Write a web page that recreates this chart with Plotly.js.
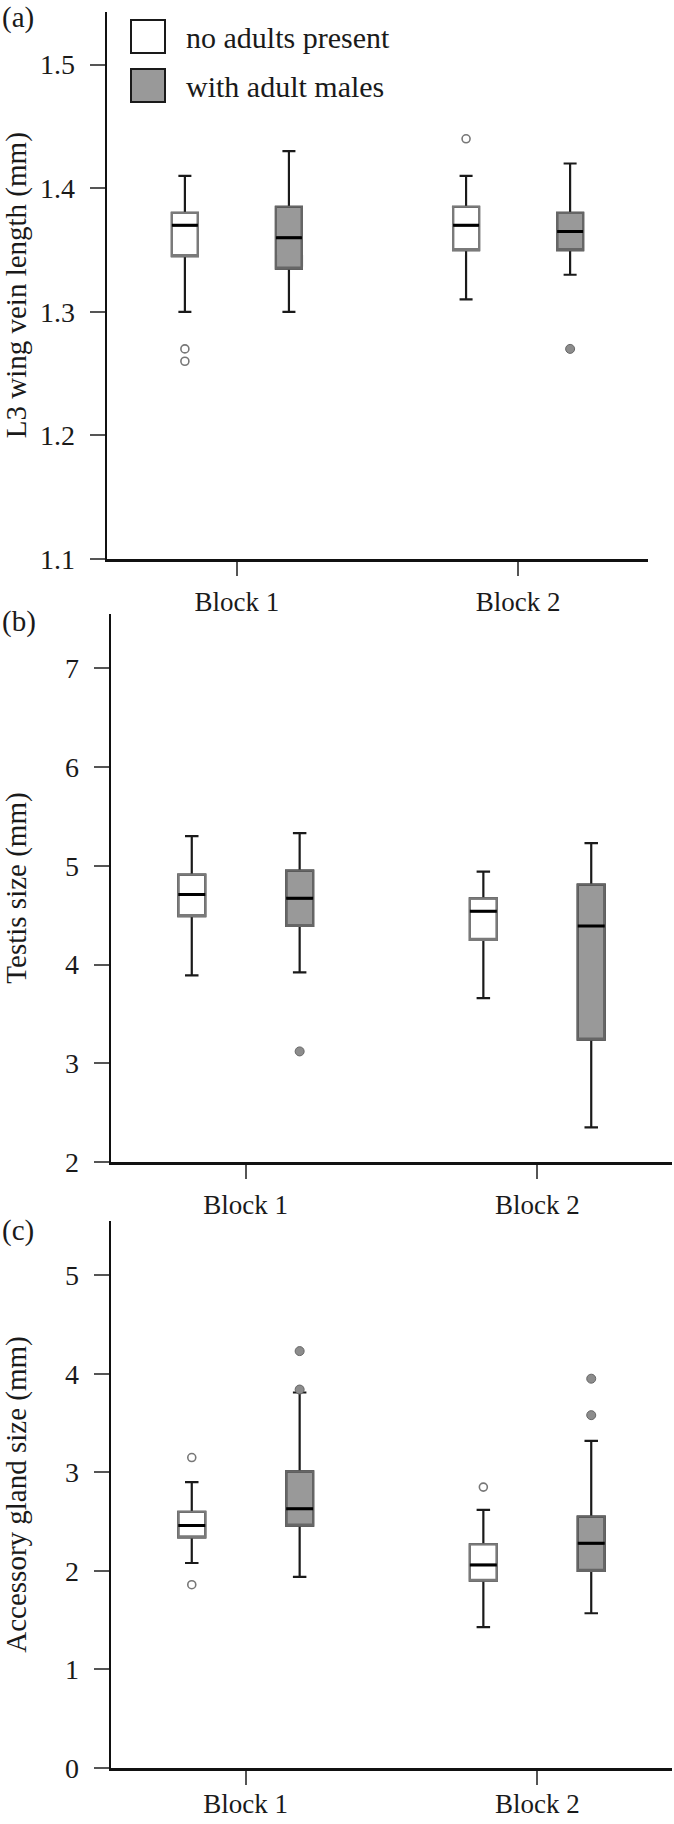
<!DOCTYPE html>
<html>
<head>
<meta charset="utf-8">
<script src="https://cdn.plot.ly/plotly-3.0.1.min.js"></script>
<style>html,body{margin:0;padding:0;background:#fff;}#chart{width:674px;height:1824px;}</style>
</head>
<body>
<div id="chart"></div>
<script>
// ---------- data ----------
var groups = ['no adults present', 'with adult males'];
var blocks = ['Block 1', 'Block 2'];
var panelLabels = ['(a)', '(b)', '(c)'];
var yTitles = ['L3 wing vein length (mm)', 'Testis size (mm)', 'Accessory gland size (mm)'];

// (a) L3 wing vein length
var wingNoneQ1 = [1.345, 1.35];
var wingNoneMed = [1.37, 1.37];
var wingNoneQ3 = [1.38, 1.385];
var wingNoneLo = [1.30, 1.31];
var wingNoneHi = [1.41, 1.41];
var wingNoneOut = [[1.27, 1.26], [1.44]];
var wingMaleQ1 = [1.335, 1.35];
var wingMaleMed = [1.36, 1.365];
var wingMaleQ3 = [1.385, 1.38];
var wingMaleLo = [1.30, 1.33];
var wingMaleHi = [1.43, 1.42];
var wingMaleOut = [[], [1.27]];

// (b) Testis size
var testNoneQ1 = [4.49, 4.25];
var testNoneMed = [4.71, 4.54];
var testNoneQ3 = [4.91, 4.67];
var testNoneLo = [3.89, 3.66];
var testNoneHi = [5.30, 4.94];
var testNoneOut = [[], []];
var testMaleQ1 = [4.39, 3.24];
var testMaleMed = [4.67, 4.39];
var testMaleQ3 = [4.95, 4.81];
var testMaleLo = [3.92, 2.35];
var testMaleHi = [5.33, 5.23];
var testMaleOut = [[3.12], []];

// (c) Accessory gland size
var glandNoneQ1 = [2.34, 1.90];
var glandNoneMed = [2.46, 2.06];
var glandNoneQ3 = [2.60, 2.27];
var glandNoneLo = [2.08, 1.43];
var glandNoneHi = [2.90, 2.62];
var glandNoneOut = [[3.15, 1.86], [2.85]];
var glandMaleQ1 = [2.46, 2.00];
var glandMaleMed = [2.63, 2.28];
var glandMaleQ3 = [3.01, 2.55];
var glandMaleLo = [1.94, 1.57];
var glandMaleHi = [3.81, 3.32];
var glandMaleOut = [[4.23, 3.84], [3.95, 3.58]];

// ---------- styling ----------
var FONT = '"Liberation Serif", serif';
var TXT = '#1a1a1a';
var styles = [
  {fill: '#ffffff', edge: '#7a7a7a', mk: {color: '#ffffff', size: 8, line: {color: '#777', width: 1.6}}},
  {fill: '#999999', edge: '#666666', mk: {color: '#8c8c8c', size: 9, line: {color: '#666', width: 1}}}
];

var panels = [
  {xa: 'x', ya: 'y', sets: [
    [wingNoneQ1, wingNoneMed, wingNoneQ3, wingNoneLo, wingNoneHi, wingNoneOut],
    [wingMaleQ1, wingMaleMed, wingMaleQ3, wingMaleLo, wingMaleHi, wingMaleOut]]},
  {xa: 'x2', ya: 'y2', sets: [
    [testNoneQ1, testNoneMed, testNoneQ3, testNoneLo, testNoneHi, testNoneOut],
    [testMaleQ1, testMaleMed, testMaleQ3, testMaleLo, testMaleHi, testMaleOut]]},
  {xa: 'x3', ya: 'y3', sets: [
    [glandNoneQ1, glandNoneMed, glandNoneQ3, glandNoneLo, glandNoneHi, glandNoneOut],
    [glandMaleQ1, glandMaleMed, glandMaleQ3, glandMaleLo, glandMaleHi, glandMaleOut]]}
];

var data = [];
panels.forEach(function(p) {
  p.sets.forEach(function(s, gi) {
    var st = styles[gi];
    blocks.forEach(function(b, bi) {
      var common = {type: 'box', x: [b], xaxis: p.xa, yaxis: p.ya, offsetgroup: 'g' + gi,
                    name: groups[gi], hoverinfo: 'skip', showlegend: false};
      // main box: whiskers, caps, fill, outliers
      var main = Object.assign({}, common, {
        q1: [s[0][bi]], median: [s[1][bi]], q3: [s[2][bi]], lowerfence: [s[3][bi]], upperfence: [s[4][bi]],
        fillcolor: st.fill, whiskerwidth: 0.5,
        line: {color: '#1a1a1a', width: 2.2}, marker: st.mk
      });
      if (s[5][bi].length) { main.y = [s[5][bi]]; main.boxpoints = 'outliers'; }
      else { main.boxpoints = false; }
      data.push(main);
      // lighter box outline
      data.push(Object.assign({}, common, {
        q1: [s[0][bi]], median: [s[0][bi]], q3: [s[2][bi]], lowerfence: [s[0][bi]], upperfence: [s[2][bi]],
        boxpoints: false, fillcolor: 'rgba(0,0,0,0)', whiskerwidth: 0,
        line: {color: st.edge, width: 2.2}
      }));
      // bold median
      data.push(Object.assign({}, common, {
        q1: [s[1][bi]], median: [s[1][bi]], q3: [s[1][bi]], lowerfence: [s[1][bi]], upperfence: [s[1][bi]],
        boxpoints: false, fillcolor: 'rgba(0,0,0,0)', whiskerwidth: 0,
        line: {color: '#000', width: 3}
      }));
    });
  });
});

function xax(domain, standoff) {
  return {domain: domain, type: 'category', categoryarray: blocks, categoryorder: 'array',
    range: [-0.462, 1.462], showline: true,
    linecolor: '#111', linewidth: 2.5, ticks: 'outside', ticklen: 14, tickwidth: 2, tickcolor: '#555',
    showgrid: false, zeroline: false, fixedrange: true,
    tickfont: {family: FONT, size: 27, color: TXT}, ticklabelstandoff: standoff};
}
function yax(domain, range, tickvals, fmt, title, standoff) {
  return {domain: domain, range: range, tickvals: tickvals, tickformat: fmt, showline: true,
    linecolor: '#111', linewidth: 2.5, ticks: 'outside', ticklen: 15, tickwidth: 2, tickcolor: '#555',
    showgrid: false, zeroline: false, fixedrange: true, ticklabelstandoff: 9,
    tickfont: {family: FONT, size: 28, color: TXT},
    title: {text: title, font: {family: FONT, size: 29, color: TXT}, standoff: standoff}};
}

var H = 1824, W = 674;
function yd(top, bottom) { return [1 - bottom / H, 1 - top / H]; }

var layout = {
  width: W, height: H, margin: {l: 0, r: 0, t: 0, b: 0},
  paper_bgcolor: '#fff', plot_bgcolor: '#fff',
  showlegend: false, hovermode: false,
  boxmode: 'group', boxgap: 0.26, boxgroupgap: 0.75,
  xaxis: Object.assign(xax([107 / W, 648 / W], 3), {anchor: 'y'}),
  xaxis2: Object.assign(xax([111 / W, 672 / W], 3), {anchor: 'y2'}),
  xaxis3: Object.assign(xax([111 / W, 672 / W], -4), {anchor: 'y3'}),
  yaxis: Object.assign(yax(yd(11.5, 559), [1.1, 1.543], [1.1, 1.2, 1.3, 1.4, 1.5], '.1f', yTitles[0], 12), {anchor: 'x'}),
  yaxis2: Object.assign(yax(yd(614, 1162), [2, 7.55], [2, 3, 4, 5, 6, 7], 'd', yTitles[1], 36), {anchor: 'x2'}),
  yaxis3: Object.assign(yax(yd(1221, 1768), [0, 5.55], [0, 1, 2, 3, 4, 5], 'd', yTitles[2], 36), {anchor: 'x3'}),
  shapes: [],
  annotations: []
};

// legend (large swatches drawn manually, as in the figure)
var legY = [36.5, 85.5];
groups.forEach(function(g, i) {
  layout.shapes.push({type: 'rect', xref: 'paper', yref: 'paper',
    x0: 131 / W, x1: 165 / W, y0: 1 - (legY[i] + 16.5) / H, y1: 1 - (legY[i] - 16.5) / H,
    fillcolor: styles[i].fill, line: {color: '#1a1a1a', width: 2}});
  layout.annotations.push({text: g, xref: 'paper', yref: 'paper', x: 184 / W, y: 1 - (legY[i] + 1) / H,
    xanchor: 'left', yanchor: 'middle', showarrow: false, font: {family: FONT, size: 30, color: TXT}});
});

// panel letters
var labY = [17, 622, 1230];
panelLabels.forEach(function(t, i) {
  layout.annotations.push({text: t, xref: 'paper', yref: 'paper', x: 0, y: 1 - labY[i] / H,
    xanchor: 'left', yanchor: 'middle', showarrow: false, font: {family: FONT, size: 29, color: TXT}});
});

Plotly.newPlot('chart', data, layout, {staticPlot: true, displayModeBar: false});
</script>
</body>
</html>
